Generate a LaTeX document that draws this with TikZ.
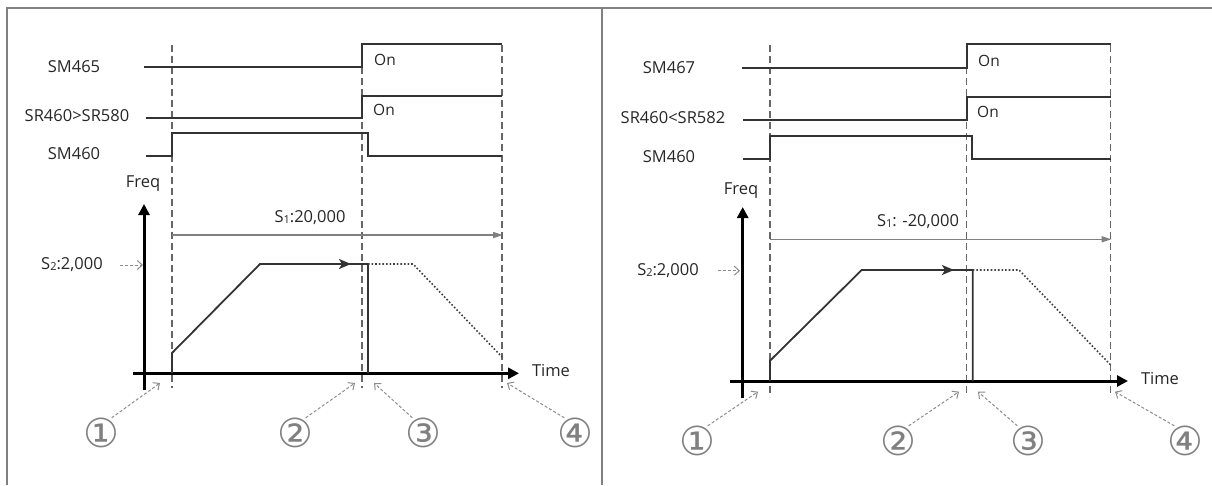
\documentclass[tikz,border=0pt]{standalone}
\usepackage{fontspec}
\setmainfont{Open Sans}
\newfontfamily\circfont{DejaVu Sans}
\usetikzlibrary{arrows.meta}
\begin{document}
\begin{tikzpicture}[x=1pt,y=-1pt,
  frame/.style={draw=black!50, line width=2.2pt},
  sig/.style={draw=black!80, line width=2pt},
  guide/.style={draw=black!60, line width=1.4pt, dash pattern=on 7pt off 4pt},
  axis/.style={draw=black, line width=3pt, -{Triangle[length=11pt,width=11pt]}},
  span/.style={draw=black!50, line width=1.6pt, -{Triangle[length=10pt,width=6pt]}},
  hint/.style={draw=black!45, line width=1pt, dash pattern=on 3pt off 2pt, -{Straight Barb[length=5pt,width=9pt]}},
  prof/.style={draw=black!80, line width=1.8pt},
  profarrow/.style={draw=black!80, line width=1.8pt, -{Stealth[length=12pt,width=10pt,inset=3pt]}},
  ghost/.style={draw=black!75, line width=1.6pt, dotted},
  lbl/.style={font=\fontsize{16.5}{19}\selectfont, text=black!85, inner sep=0pt},
  onl/.style={font=\fontsize{15.5}{18}\selectfont, text=black!85, inner sep=0pt},
  circ/.style={font=\circfont\fontsize{40}{42}\selectfont, text=black!50, inner sep=0pt}
]
\useasboundingbox (0,0) rectangle (1212,485);
% frame
\draw[frame] (7,485) -- (7,8) -- (1212,8);
\draw[frame] (602,8) -- (602,485);

% ================= LEFT PANEL =================
\node[lbl] (l465) at (74,67) {SM465};
\node[lbl] (lsr) at (77,116) {SR460>SR580};
\node[lbl] (l460) at (74,154) {SM460};
\node[onl] (lon1) at (385,60) {On};
\node[onl] (lon2) at (384,110) {On};
\node[lbl] (lfreq) at (143,184) {Freq};
\node[lbl] (ltime) at (551,371) {Time};
\node[lbl] (ls1) at (310,218) {S\raisebox{-1pt}{\fontsize{11}{11}\selectfont 1}:20,000};
\node[lbl] (ls2) at (72,265) {S\raisebox{-1pt}{\fontsize{11}{11}\selectfont 2}:2,000};

\draw[guide] (172,45) -- (172,388);
\draw[guide] (362,45) -- (362,388);
\draw[guide] (502,45) -- (502,388);

\draw[sig] (144,66.7) -- (362,66.7) -- (362,44.3) -- (502,44.3);
\draw[sig] (146,117.7) -- (362,117.7) -- (362,96) -- (502,96);
\draw[sig] (146,155.7) -- (172,155.7) -- (172,133.3) -- (367.7,133.3) -- (367.7,155.7) -- (502,155.7);

\draw[axis] (144,390) -- (144,204);
\draw[axis] (133,373.3) -- (519,373.3);

\draw[span] (172,235) -- (503,235);
\draw[hint] (120,265) -- (143,265);

\draw[prof] (172,373.3) -- (172,353) -- (260,264) -- (368,264) -- (368,373.3);
\draw[profarrow] (260,264) -- (351,264);
\draw[ghost] (368,264) -- (413,264) -- (502,357);

\node[circ] (lc1) at (101,433) {①};
\node[circ] (lc2) at (295,433) {②};
\node[circ] (lc3) at (423,433) {③};
\node[circ] (lc4) at (575,433) {④};
\coordinate (lp1) at (160,383);
\coordinate (lp2) at (355,383);
\coordinate (lp3) at (374,383);
\coordinate (lp4) at (507,383);
\draw[hint] (lc1.55) -- (lp1);
\draw[hint] (lc2.55) -- (lp2);
\draw[hint] (lc3.125) -- (lp3);
\draw[hint] (lc4.125) -- (lp4);

% ================= RIGHT PANEL =================
\node[lbl] (r467) at (669,68) {SM467};
\node[lbl] (rsr) at (673,118) {SR460<SR582};
\node[lbl] (r460) at (669,157) {SM460};
\node[onl] (ron1) at (989,61) {On};
\node[onl] (ron2) at (988,112) {On};
\node[lbl] (rfreq) at (741,191) {Freq};
\node[lbl] (rtime) at (1160,379) {Time};
\node[lbl] (rs1) at (918,222) {S\raisebox{-1pt}{\fontsize{11}{11}\selectfont 1}: -20,000};
\node[lbl] (rs2) at (668,271) {S\raisebox{-1pt}{\fontsize{11}{11}\selectfont 2}:2,000};

\draw[guide] (770,45) -- (770,397);
\draw[guide] (966.7,45) -- (966.7,397);
\draw[guide] (1110.7,45) -- (1110.7,397);

\draw[sig] (741.7,67.7) -- (966.7,67.7) -- (966.7,44.3) -- (1110.7,44.3);
\draw[sig] (743,120) -- (966.7,120) -- (966.7,97.3) -- (1110.7,97.3);
\draw[sig] (743,159) -- (770,159) -- (770,135.7) -- (972,135.7) -- (972,159) -- (1110.7,159);

\draw[axis] (742.7,398) -- (742.7,207);
\draw[axis] (730,381) -- (1128,381);

\draw[span] (770,239.3) -- (1111.5,239.3);
\draw[hint] (718,270.7) -- (740,270.7);

\draw[prof] (770,381) -- (770,360.7) -- (861.7,270) -- (972.7,270) -- (972.7,381);
\draw[profarrow] (861.7,270) -- (954,270);
\draw[ghost] (972.7,270) -- (1019,270) -- (1110.7,365);

\node[circ] (rc1) at (697,441) {①};
\node[circ] (rc2) at (898,441) {②};
\node[circ] (rc3) at (1028,441) {③};
\node[circ] (rc4) at (1185,441) {④};
\coordinate (rp1) at (758,391.7);
\coordinate (rp2) at (959,391.7);
\coordinate (rp3) at (978,391.7);
\coordinate (rp4) at (1115,391.7);
\draw[hint] (rc1.55) -- (rp1);
\draw[hint] (rc2.55) -- (rp2);
\draw[hint] (rc3.125) -- (rp3);
\draw[hint] (rc4.125) -- (rp4);
\end{tikzpicture}
\end{document}
